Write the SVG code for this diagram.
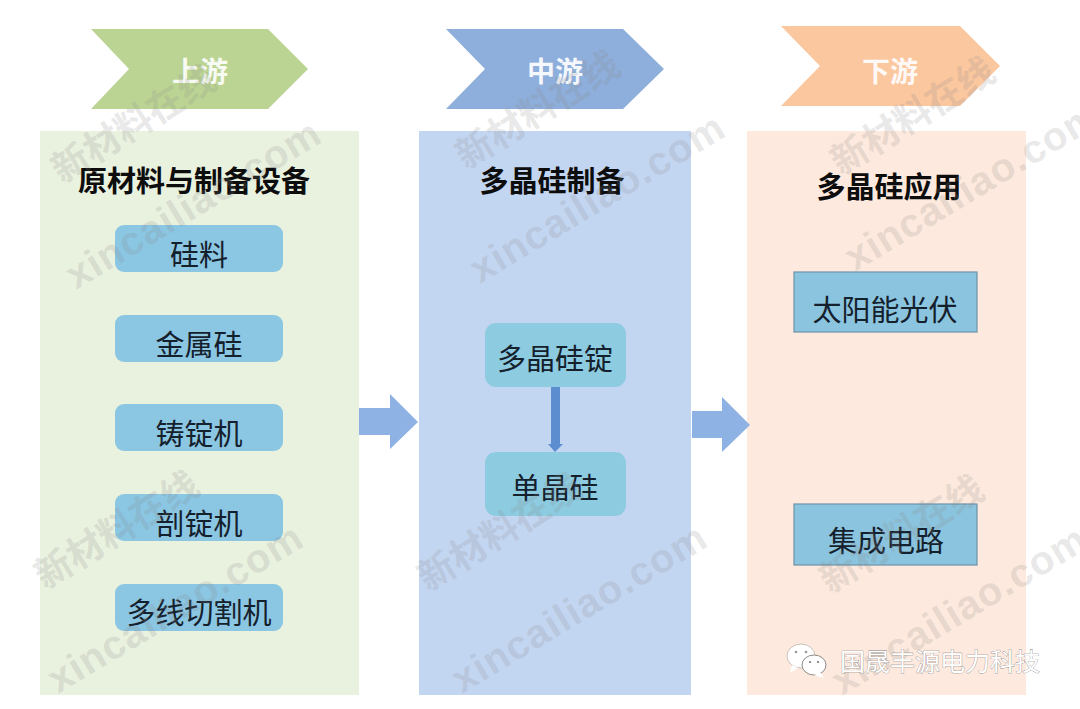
<svg xmlns="http://www.w3.org/2000/svg" width="1080" height="709" viewBox="0 0 1080 709">
<style>
text{font-family:"Noto Sans CJK SC","Liberation Sans",sans-serif;text-anchor:middle}
.h{font-size:29px;font-weight:700;fill:#0d0d0d}
.b{font-size:29px;fill:#14202c}
.c{font-size:28px;font-weight:700;fill:#fff;fill-opacity:.92}
.n{fill:#8bc6e2}
.m{fill:#8ccbe0}
.s{fill:#8bc4de;stroke:#6d93a8;stroke-width:1.2}
.wa{font-size:37px;font-weight:700;fill:#8a8a8a;fill-opacity:.2;text-anchor:start}
.wb{font-size:40px;font-weight:700;fill:#8a8a8a;fill-opacity:.2;text-anchor:start;font-family:"Liberation Sans",sans-serif;letter-spacing:1px}
</style>
<rect width="1080" height="709" fill="#fff"/>
<g id="banner-up"><polygon points="91,29 268,29 308,69 268,109 91,109 129,69" fill="#bcd493"/><text class="c" x="200" y="82">上游</text></g>
<g id="banner-mid"><polygon points="446,29 623,29 664,69 623,109 446,109 485,69" fill="#8eaedb"/><text class="c" x="555" y="82">中游</text></g>
<g id="banner-down"><polygon points="781,26 960,26 1000,66 960,106 781,106 820,66" fill="#fbc79f"/><text class="c" x="890" y="82">下游</text></g>
<g id="panel-up"><rect x="40" y="131" width="319" height="564" fill="#e9f1df"/><text class="h" x="194" y="192">原材料与制备设备</text></g>
<g id="panel-mid"><rect x="419" y="131" width="272" height="564" fill="#c3d6f1"/><text class="h" x="552" y="192">多晶硅制备</text></g>
<g id="panel-down"><rect x="747" y="131" width="279" height="564" fill="#fde9dd"/><text class="h" x="889" y="198">多晶硅应用</text></g>
<g id="n-guiliao"><rect class="n" x="115" y="225" width="168" height="47" rx="9"/><text class="b" x="199" y="266">硅料</text></g>
<g id="n-jinshugui"><rect class="n" x="115" y="315" width="168" height="47" rx="9"/><text class="b" x="199" y="356">金属硅</text></g>
<g id="n-zhudingji"><rect class="n" x="115" y="404" width="168" height="47" rx="9"/><text class="b" x="199" y="445">铸锭机</text></g>
<g id="n-poudingji"><rect class="n" x="115" y="494" width="168" height="47" rx="9"/><text class="b" x="199" y="535">剖锭机</text></g>
<g id="n-qiegeji"><rect class="n" x="115" y="584" width="168" height="47" rx="9"/><text class="b" x="199" y="624">多线切割机</text></g>
<g id="n-duojingguiding"><rect class="m" x="485" y="323" width="141" height="64" rx="11"/><text class="b" x="555" y="370">多晶硅锭</text></g>
<g id="n-danjinggui"><rect class="m" x="485" y="452" width="141" height="64" rx="11"/><text class="b" x="555" y="499">单晶硅</text></g>
<g id="n-guangfu"><rect class="s" x="794" y="272" width="183" height="60"/><text class="b" x="885" y="321">太阳能光伏</text></g>
<g id="n-jicheng"><rect class="s" x="794" y="504" width="183" height="61"/><text class="b" x="886" y="552">集成电路</text></g>
<g id="connectors">
<polygon points="359,408 390,408 390,394 418,422 390,449 390,435 359,435" fill="#8eb2e4"/>
<polygon points="692,411 722,411 722,397 750,425 722,452 722,438 692,438" fill="#8eb2e4"/>
<polygon points="551,387 560,387 560,444 563,444 555,452 548,444 551,444" fill="#5b8dcf"/>
</g>
<g id="watermarks">
<text class="wa" transform="translate(62,184) rotate(-32)">新材料在线</text>
<text class="wb" transform="translate(76,290) rotate(-31)">xincailiao.com</text>
<text class="wa" transform="translate(466,170) rotate(-32)">新材料在线</text>
<text class="wb" transform="translate(480,284) rotate(-31)">xincailiao.com</text>
<text class="wa" transform="translate(841,176) rotate(-32)">新材料在线</text>
<text class="wb" transform="translate(855,272) rotate(-31)">xincailiao.com</text>
<text class="wa" transform="translate(45,590) rotate(-32)">新材料在线</text>
<text class="wb" transform="translate(58,694) rotate(-31)">xincailiao.com</text>
<text class="wa" transform="translate(428,592) rotate(-32)">新材料在线</text>
<text class="wb" transform="translate(462,694) rotate(-31)">xincailiao.com</text>
<text class="wa" transform="translate(830,594) rotate(-32)">新材料在线</text>
<text class="wb" transform="translate(842,696) rotate(-31)">xincailiao.com</text>
</g>
<g id="credit">
<ellipse cx="801" cy="656" rx="14" ry="12" fill="#fff" stroke="#c9c2bc" stroke-width="1"/>
<ellipse cx="814" cy="665" rx="12" ry="10" fill="#fff" stroke="#8d8a88" stroke-width="1"/>
<polygon points="792,665 790,673 798,668" fill="#fff"/>
<polygon points="820,672 824,678 814,675" fill="#fff"/>
<circle cx="796" cy="652" r="1.3" fill="#999"/><circle cx="806" cy="652" r="1.3" fill="#999"/>
<circle cx="810" cy="662" r="1.1" fill="#777"/><circle cx="818" cy="662" r="1.1" fill="#777"/>
<text x="940" y="671" style="font-size:25px;fill:#fff;stroke:#777;stroke-width:.6px;paint-order:stroke">国晟丰源电力科技</text>
</g>
</svg>
